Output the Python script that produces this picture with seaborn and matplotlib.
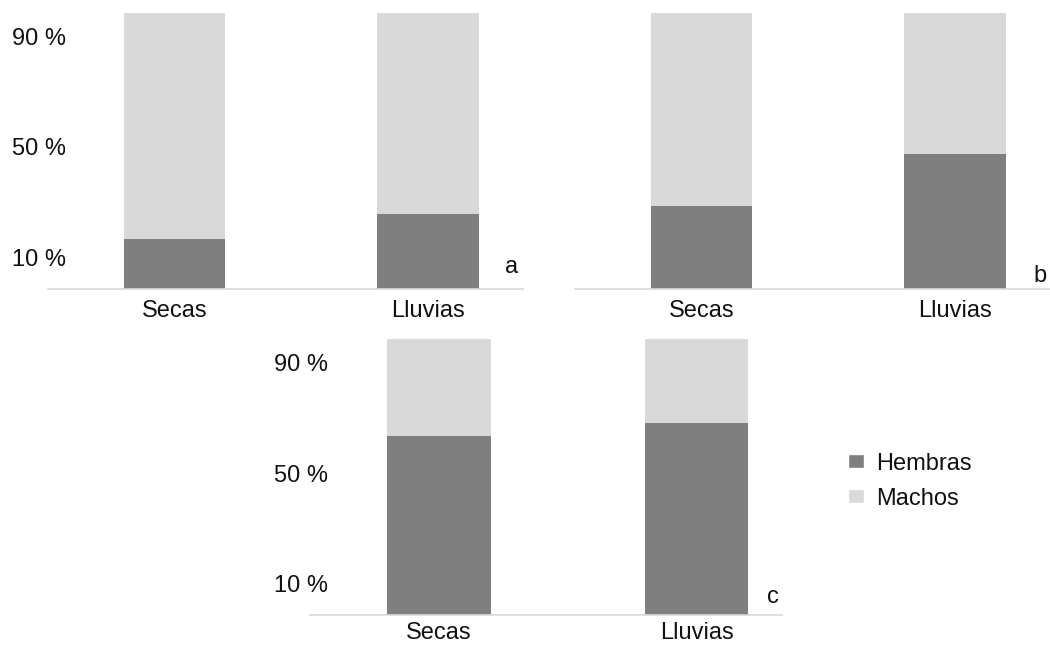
import numpy as np
import pandas as pd
import matplotlib.pyplot as plt
import matplotlib.transforms as mtransforms
from matplotlib.patches import Patch
import seaborn as sns

# ==============================================================================
# DATA (percent of individuals by sex, per season)
# ==============================================================================
temporadas = ["Secas", "Lluvias"]
paneles = ["a", "b", "c"]
hembras_a = [18, 27]
hembras_b = [30, 49]
hembras_c = [65, 69.5]
machos_a = [82, 73]
machos_b = [70, 51]
machos_c = [35, 30.5]
ticks_y = [10, 50, 90]
ticks_y_labels = ["10 %", "50 %", "90 %"]

color_hembras = "#7f7f7f"
color_machos = "#d9d9d9"
color_texto = "#111111"

sns.set_style("white")
plt.rcParams['font.family'] = ['Liberation Sans', 'DejaVu Sans']

fig = plt.figure(figsize=(10.5, 6.45), dpi=100)
W, H = 1050, 645

def make_ax(x0, x1, ytop, ybot):
    return fig.add_axes([x0 / W, (H - ybot) / H, (x1 - x0) / W, (ybot - ytop) / H])

ax_a = make_ax(48, 523, 13, 289)
ax_b = make_ax(575, 1050, 13, 289)
ax_c = make_ax(310, 782, 339, 615)

datos = {
    "a": (ax_a, hembras_a, machos_a, (-0.5, 1.375), True, (0.975, 0.058), 8),
    "b": (ax_b, hembras_b, machos_b, (-0.5, 1.375), False, (0.979, 0.025), 8),
    "c": (ax_c, hembras_c, machos_c, (-0.5, 1.33), True, (0.981, 0.043), 5),
}

# nudge y tick labels a few pixels upward, like the original layout
nudge = mtransforms.ScaledTranslation(0, 4 / 100, fig.dpi_scale_trans)

for p in paneles:
    ax, hem, mac, xlim, show_y, pos, xpad = datos[p]
    df = pd.DataFrame({
        "temporada": temporadas,
        "hembras": hem,
        "total": np.array(hem) + np.array(mac),
    })
    # stacked 100% bars: total (machos colour) behind, hembras in front
    sns.barplot(data=df, x="temporada", y="total", color=color_machos,
                saturation=1, width=0.4, ax=ax, errorbar=None)
    sns.barplot(data=df, x="temporada", y="hembras", color=color_hembras,
                saturation=1, width=0.4, ax=ax, errorbar=None)
    for bar in ax.patches:
        bar.set_linewidth(0)
    ax.set_xlim(*xlim)
    ax.set_ylim(0, 100)
    ax.set_xlabel("")
    ax.set_ylabel("")
    for s in ["top", "right", "left"]:
        ax.spines[s].set_visible(False)
    ax.spines["bottom"].set_color("#d9d9d9")
    ax.spines["bottom"].set_linewidth(1.2)
    ax.tick_params(axis="x", length=0, pad=xpad, labelsize=17, labelcolor=color_texto)
    if show_y:
        ax.set_yticks(ticks_y)
        ax.set_yticklabels(ticks_y_labels, ha="left")
        ax.tick_params(axis="y", length=0, pad=26, labelsize=17, labelcolor=color_texto)
        for lab in ax.get_yticklabels():
            lab.set_transform(lab.get_transform() + nudge)
    else:
        ax.set_yticks([])
    ax.text(pos[0], pos[1], p, transform=ax.transAxes, ha="center",
            va="baseline", fontsize=17, color=color_texto)

handles = [Patch(facecolor=color_hembras, label="Hembras"),
           Patch(facecolor=color_machos, label="Machos")]
fig.legend(handles=handles, loc="center left", bbox_to_anchor=(836 / W, 0.254),
           frameon=False, fontsize=17, handlelength=0.7, handleheight=0.55,
           handletextpad=0.5, labelspacing=0.55, borderpad=0,
           labelcolor=color_texto)

plt.savefig("out.png", dpi=100)
plt.close()
